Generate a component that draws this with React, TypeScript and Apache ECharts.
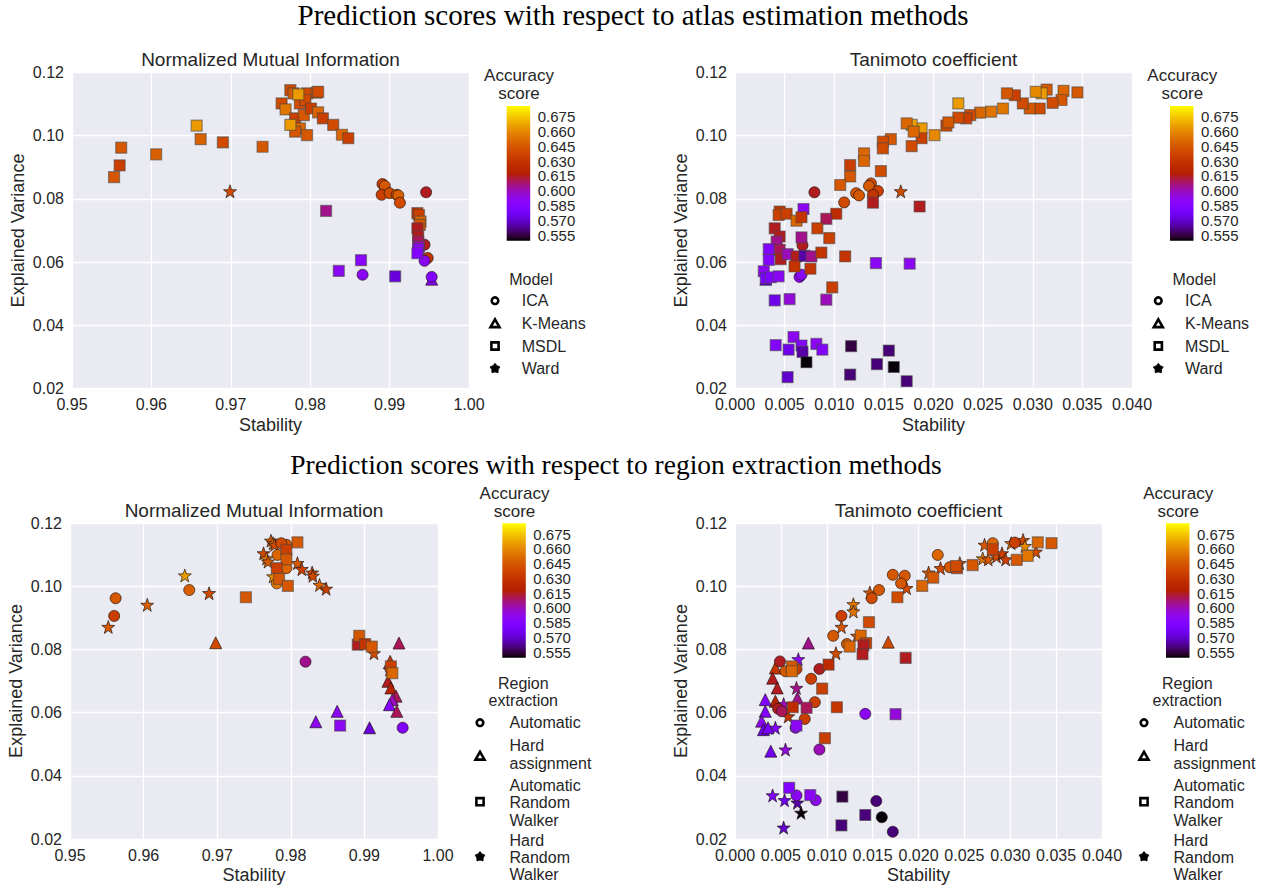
import React, { useEffect, useRef } from "react";
import * as echarts from "echarts";

// ---------- DATA: [stability, explained variance, accuracy score] ----------
// Top row: atlas estimation models
const nmiAtlasICA = [
  [0.9891, 0.0847, 0.635], [0.9894, 0.0841, 0.645], [0.989, 0.0813, 0.635], [0.99, 0.0818, 0.64],
  [0.9909, 0.0813, 0.645], [0.9911, 0.0811, 0.648], [0.9913, 0.0788, 0.64], [0.9946, 0.0821, 0.615],
  [0.9944, 0.0655, 0.615], [0.9948, 0.0613, 0.63], [0.9944, 0.0604, 0.59], [0.9953, 0.0553, 0.585],
  [0.9866, 0.056, 0.59],
];
const nmiAtlasKMeans = [[0.9953, 0.0546, 0.59]];
const nmiAtlasMSDL = [
  [0.9562, 0.0962, 0.645], [0.956, 0.0906, 0.635], [0.9553, 0.0869, 0.645], [0.9606, 0.0941, 0.648],
  [0.9657, 0.1032, 0.665], [0.9662, 0.0989, 0.648], [0.969, 0.0979, 0.64], [0.974, 0.0965, 0.645],
  [0.9775, 0.1144, 0.64], [0.9779, 0.1134, 0.645], [0.9796, 0.1134, 0.64], [0.9808, 0.1136, 0.645],
  [0.981, 0.1139, 0.64], [0.9764, 0.1102, 0.64], [0.9787, 0.1102, 0.64], [0.9794, 0.1113, 0.64],
  [0.9769, 0.1083, 0.655], [0.9781, 0.1055, 0.635], [0.9787, 0.1023, 0.65], [0.9781, 0.1013, 0.645],
  [0.9775, 0.1034, 0.665], [0.9796, 0.1002, 0.645], [0.9792, 0.1065, 0.645], [0.9801, 0.1086, 0.635],
  [0.981, 0.1074, 0.65], [0.9816, 0.1055, 0.635], [0.9829, 0.1034, 0.64], [0.984, 0.1003, 0.65],
  [0.9848, 0.0992, 0.635], [0.9785, 0.1131, 0.665], [0.982, 0.0762, 0.605],
  [0.9935, 0.0755, 0.63], [0.9937, 0.0749, 0.635], [0.9939, 0.0728, 0.65], [0.9938, 0.0718, 0.645],
  [0.9935, 0.0707, 0.615], [0.9936, 0.0681, 0.615], [0.9936, 0.0665, 0.61], [0.9937, 0.0649, 0.6],
  [0.9936, 0.0641, 0.59], [0.9935, 0.0628, 0.585],
  [0.9907, 0.0555, 0.572], [0.9864, 0.0606, 0.588], [0.9836, 0.0572, 0.59],
];
const nmiAtlasWard = [[0.9699, 0.0824, 0.64]];

const tanAtlasICA = [
  [0.0137, 0.0849, 0.64], [0.0135, 0.0841, 0.645], [0.0144, 0.0825, 0.635], [0.0122, 0.0818, 0.645],
  [0.0125, 0.0811, 0.645], [0.0139, 0.0813, 0.63], [0.011, 0.0789, 0.64], [0.008, 0.0821, 0.615],
  [0.0068, 0.0653, 0.615], [0.0065, 0.0553, 0.59], [0.0067, 0.056, 0.59],
];
const tanAtlasKMeans = [[0.0031, 0.0546, 0.578]];
const tanAtlasMSDL = [
  [0.0345, 0.1137, 0.645], [0.0331, 0.1142, 0.65], [0.0329, 0.1113, 0.645], [0.032, 0.1104, 0.64],
  [0.0314, 0.1146, 0.645], [0.0309, 0.1134, 0.665], [0.0303, 0.1139, 0.66], [0.0307, 0.1086, 0.64],
  [0.0297, 0.1086, 0.645], [0.029, 0.1102, 0.64], [0.0282, 0.1128, 0.635], [0.0274, 0.1134, 0.645],
  [0.027, 0.1086, 0.655], [0.0258, 0.1076, 0.655], [0.0247, 0.1073, 0.65], [0.0237, 0.1065, 0.64],
  [0.0233, 0.1055, 0.635], [0.0225, 0.1057, 0.64], [0.0225, 0.1102, 0.665], [0.0213, 0.1032, 0.64],
  [0.0215, 0.1042, 0.645], [0.0201, 0.1002, 0.66], [0.0188, 0.1023, 0.665], [0.0188, 0.0992, 0.635],
  [0.0178, 0.1034, 0.665], [0.0173, 0.1039, 0.65], [0.018, 0.1013, 0.65], [0.0178, 0.0967, 0.64],
  [0.0157, 0.0989, 0.645], [0.0149, 0.0981, 0.64], [0.0149, 0.096, 0.64], [0.013, 0.0944, 0.65],
  [0.013, 0.092, 0.65], [0.0147, 0.0888, 0.64], [0.0116, 0.0907, 0.635], [0.0116, 0.0871, 0.645],
  [0.0106, 0.0844, 0.645],
  [0.0139, 0.0788, 0.615], [0.0186, 0.0776, 0.615], [0.0069, 0.0768, 0.59], [0.0102, 0.0753, 0.625],
  [0.0092, 0.0737, 0.61], [0.0083, 0.0707, 0.635], [0.0095, 0.0676, 0.635], [0.0067, 0.0678, 0.605],
  [0.0045, 0.076, 0.63], [0.0044, 0.0749, 0.635], [0.0052, 0.0753, 0.635], [0.0062, 0.0731, 0.65],
  [0.0067, 0.0742, 0.63], [0.004, 0.0707, 0.615], [0.0045, 0.0681, 0.615], [0.0042, 0.0665, 0.605],
  [0.0034, 0.0641, 0.585], [0.0034, 0.0607, 0.585], [0.0045, 0.0639, 0.61], [0.0046, 0.0609, 0.615],
  [0.0053, 0.0625, 0.6], [0.0062, 0.0618, 0.615], [0.007, 0.062, 0.565], [0.0077, 0.0618, 0.605],
  [0.0087, 0.063, 0.63], [0.0111, 0.0618, 0.63], [0.006, 0.0586, 0.63], [0.0076, 0.0579, 0.63],
  [0.0029, 0.0571, 0.59], [0.0031, 0.0549, 0.58], [0.0036, 0.0552, 0.585], [0.0044, 0.0555, 0.59],
  [0.0142, 0.0597, 0.59], [0.0176, 0.0595, 0.59], [0.0098, 0.052, 0.635],
  [0.004, 0.0479, 0.575], [0.0055, 0.0483, 0.595], [0.0092, 0.0481, 0.6],
  [0.0041, 0.0337, 0.585], [0.0059, 0.0363, 0.59], [0.0054, 0.0323, 0.575], [0.0067, 0.0336, 0.585],
  [0.0068, 0.0316, 0.565], [0.0082, 0.0341, 0.59], [0.0088, 0.0323, 0.585], [0.0072, 0.0283, 0.55],
  [0.0053, 0.0236, 0.57], [0.0117, 0.0334, 0.555], [0.0155, 0.032, 0.56], [0.0143, 0.0277, 0.56],
  [0.016, 0.0268, 0.55], [0.0116, 0.0244, 0.56], [0.0173, 0.0223, 0.56],
];
const tanAtlasWard = [[0.0167, 0.0824, 0.64]];

// Bottom row: region extraction methods
const nmiRegionAuto = [
  [0.9562, 0.0962, 0.645], [0.956, 0.0906, 0.635], [0.9662, 0.0988, 0.648], [0.9794, 0.1131, 0.645],
  [0.9787, 0.1136, 0.64], [0.9782, 0.1099, 0.65], [0.9794, 0.1057, 0.65], [0.9781, 0.1009, 0.655],
  [0.982, 0.0761, 0.605], [0.9952, 0.0552, 0.585],
];
const nmiRegionHard = [
  [0.9698, 0.0821, 0.64], [0.9834, 0.0571, 0.59], [0.9863, 0.0604, 0.59], [0.9907, 0.0552, 0.572],
  [0.9947, 0.082, 0.61], [0.9935, 0.0762, 0.63], [0.9932, 0.0699, 0.615], [0.9936, 0.0678, 0.62],
  [0.9943, 0.0652, 0.61], [0.9938, 0.0641, 0.6], [0.9934, 0.0625, 0.585], [0.9944, 0.0604, 0.61],
];
const nmiRegionAutoRW = [
  [0.9739, 0.0965, 0.645], [0.9809, 0.1139, 0.645], [0.9794, 0.1115, 0.635], [0.9794, 0.1085, 0.645],
  [0.9781, 0.1057, 0.635], [0.9784, 0.1023, 0.645], [0.9796, 0.1001, 0.645], [0.9867, 0.0559, 0.59],
  [0.9891, 0.0815, 0.615], [0.9893, 0.0843, 0.645], [0.9901, 0.0817, 0.63], [0.991, 0.0809, 0.645],
  [0.9936, 0.0746, 0.635], [0.9938, 0.0725, 0.65],
];
const nmiRegionHardRW = [
  [0.9552, 0.0871, 0.645], [0.9605, 0.0941, 0.648], [0.9656, 0.1034, 0.665], [0.9689, 0.0978, 0.64],
  [0.9773, 0.1144, 0.645], [0.9776, 0.1136, 0.655], [0.9778, 0.1131, 0.64], [0.9763, 0.1104, 0.64],
  [0.9767, 0.1088, 0.655], [0.9769, 0.1078, 0.645], [0.9776, 0.1031, 0.66], [0.9809, 0.1073, 0.645],
  [0.9815, 0.1054, 0.635], [0.9829, 0.1043, 0.64], [0.983, 0.1033, 0.64], [0.9839, 0.1004, 0.65],
  [0.9848, 0.0992, 0.635], [0.9913, 0.0788, 0.64], [0.9934, 0.0736, 0.635],
];

const tanRegionAuto = [
  [0.0281, 0.1136, 0.65], [0.0305, 0.1138, 0.635], [0.0221, 0.1099, 0.65], [0.0234, 0.106, 0.645],
  [0.0172, 0.1036, 0.645], [0.0185, 0.1033, 0.645], [0.0181, 0.1009, 0.645], [0.0157, 0.0988, 0.645],
  [0.0149, 0.0962, 0.64], [0.0116, 0.0906, 0.635], [0.0107, 0.0843, 0.645], [0.0122, 0.0817, 0.645],
  [0.0049, 0.0762, 0.615], [0.0092, 0.0738, 0.615], [0.0083, 0.0707, 0.635], [0.0087, 0.0633, 0.635],
  [0.0055, 0.0731, 0.645], [0.0067, 0.0738, 0.635], [0.0047, 0.0612, 0.615], [0.0051, 0.0604, 0.61],
  [0.0076, 0.058, 0.635], [0.0066, 0.0552, 0.59], [0.0142, 0.0596, 0.59], [0.0092, 0.0483, 0.6],
  [0.0067, 0.0338, 0.59], [0.0088, 0.0323, 0.59], [0.0154, 0.032, 0.56], [0.016, 0.0269, 0.55],
  [0.0172, 0.0223, 0.56],
];
const tanRegionHard = [
  [0.008, 0.082, 0.605], [0.0167, 0.0823, 0.64], [0.0044, 0.0741, 0.63], [0.0041, 0.0709, 0.615],
  [0.0046, 0.0678, 0.615], [0.0044, 0.0636, 0.62], [0.0068, 0.0646, 0.605], [0.0033, 0.0641, 0.585],
  [0.0033, 0.0604, 0.585], [0.0029, 0.0573, 0.59], [0.0031, 0.0546, 0.575], [0.0036, 0.0552, 0.58],
  [0.0039, 0.0478, 0.575],
];
const tanRegionAutoRW = [
  [0.0345, 0.1136, 0.645], [0.033, 0.1139, 0.65], [0.0319, 0.1096, 0.655], [0.0307, 0.1083, 0.645],
  [0.0281, 0.1117, 0.635], [0.0259, 0.1067, 0.645], [0.0242, 0.1057, 0.635], [0.0241, 0.1064, 0.64],
  [0.0216, 0.1027, 0.645], [0.0204, 0.1001, 0.65], [0.0177, 0.0965, 0.64], [0.0146, 0.0886, 0.64],
  [0.0137, 0.0844, 0.65], [0.0143, 0.082, 0.635], [0.014, 0.0813, 0.615], [0.0139, 0.0785, 0.615],
  [0.0125, 0.0809, 0.65], [0.0186, 0.0773, 0.615], [0.0102, 0.0752, 0.625], [0.0095, 0.0676, 0.635],
  [0.0111, 0.0617, 0.63], [0.0062, 0.0746, 0.645], [0.0062, 0.0731, 0.65], [0.0063, 0.0617, 0.625],
  [0.0078, 0.0615, 0.61], [0.0067, 0.0559, 0.59], [0.0175, 0.0595, 0.595], [0.0098, 0.0519, 0.635],
  [0.0059, 0.0362, 0.585], [0.0082, 0.0339, 0.59], [0.0117, 0.0334, 0.555], [0.0142, 0.0276, 0.56],
  [0.0116, 0.0243, 0.56],
];
const tanRegionHardRW = [
  [0.0314, 0.1146, 0.64], [0.0316, 0.1127, 0.66], [0.0301, 0.1136, 0.65], [0.0272, 0.1131, 0.645],
  [0.027, 0.1088, 0.655], [0.0276, 0.1085, 0.645], [0.0285, 0.1094, 0.64], [0.0291, 0.1104, 0.635],
  [0.0295, 0.1085, 0.635], [0.0328, 0.1109, 0.64], [0.0245, 0.1073, 0.645], [0.0224, 0.1057, 0.64],
  [0.0211, 0.1043, 0.645], [0.0187, 0.0994, 0.64], [0.0147, 0.098, 0.645], [0.0129, 0.0943, 0.655],
  [0.0129, 0.092, 0.655], [0.0116, 0.0871, 0.645], [0.0133, 0.0843, 0.64], [0.011, 0.0788, 0.64],
  [0.0069, 0.0769, 0.59], [0.0067, 0.0678, 0.605], [0.0053, 0.0627, 0.6], [0.0058, 0.0588, 0.63],
  [0.0044, 0.0552, 0.585], [0.0055, 0.0483, 0.595], [0.0041, 0.0338, 0.585], [0.0054, 0.0323, 0.575],
  [0.0068, 0.0315, 0.565], [0.0072, 0.0283, 0.55], [0.0053, 0.0236, 0.57],
];

// Tick labels / names
const colorbarTicks = [0.555, 0.57, 0.585, 0.6, 0.615, 0.63, 0.645, 0.66, 0.675];
const CB_MIN = 0.5493;
const CB_MAX = 0.686;
const modelNames = ["ICA", "K-Means", "MSDL", "Ward"];
const regionNames = [["Automatic"], ["Hard", "assignment"], ["Automatic", "Random", "Walker"], ["Hard", "Random", "Walker"]];
const mainTitles = ["Prediction scores with respect to atlas estimation methods", "Prediction scores with respect to region extraction methods"];
const subTitles = ["Normalized Mutual Information", "Tanimoto coefficient"];

// ---------- colormap (matplotlib "gnuplot") ----------
function gnuplot(t: number) {
  const r = Math.sqrt(t);
  const g = t * t * t;
  const b = Math.max(0, Math.min(1, Math.sin(2 * Math.PI * t)));
  const h = (v: number) => Math.round(v * 255);
  return `rgb(${h(r)},${h(g)},${h(b)})`;
}
const NSTOP = 40;
const CMAP = Array.from({ length: NSTOP + 1 }, (_, i) => gnuplot(i / NSTOP));

const STAR = "path://M0,-50L11.8,-16.2L47.6,-15.5L19,6.2L29.4,40.5L0,20L-29.4,40.5L-19,6.2L-47.6,-15.5L-11.8,-16.2Z";
const SANS = "'Liberation Sans', Arial, sans-serif";
const SERIF = "'Liberation Serif', 'DejaVu Serif', serif";
const TXT = "#262626";

const GRIDS = [
  { left: 72, top: 72.5, width: 397, height: 316 },
  { left: 735, top: 72.5, width: 397, height: 316 },
  { left: 70, top: 523, width: 368, height: 316 },
  { left: 735, top: 523, width: 367, height: 316 },
];

export default function App() {
  const ref = useRef<HTMLDivElement>(null);
  useEffect(() => {
    if (!ref.current) return;
    const chart = echarts.init(ref.current, null, { renderer: "svg" });

    const xAxes = GRIDS.map((_, i) => {
      const nmi = i % 2 === 0;
      return {
        type: "value",
        gridIndex: i,
        min: nmi ? 0.95 : 0,
        max: nmi ? 1.0 : 0.04,
        interval: nmi ? 0.01 : 0.005,
        axisLine: { show: false },
        axisTick: { show: false },
        splitLine: { show: true, lineStyle: { color: "#ffffff", width: 1.3 } },
        axisLabel: {
          color: TXT, fontSize: 16, fontFamily: SANS, margin: 8,
          formatter: (v: number) => v.toFixed(nmi ? 2 : 3),
        },
      };
    });
    const yAxes = GRIDS.map((_, i) => ({
      type: "value",
      gridIndex: i,
      min: 0.02,
      max: 0.12,
      interval: 0.02,
      axisLine: { show: false },
      axisTick: { show: false },
      splitLine: { show: true, lineStyle: { color: "#ffffff", width: 1.3 } },
      axisLabel: { color: TXT, fontSize: 16, fontFamily: SANS, margin: 8, formatter: (v: number) => v.toFixed(2) },
    }));

    const mk = (name: string, data: number[][], grid: number, symbol: string, size: number, z: number) => ({
      type: "scatter",
      name,
      data,
      xAxisIndex: grid,
      yAxisIndex: grid,
      symbol,
      symbolSize: size,
      z,
      itemStyle: {
        borderColor: symbol === "rect" ? "rgba(70,70,70,0.55)" : "rgba(30,20,20,0.85)",
        borderWidth: symbol === "rect" ? 1.2 : 0.8,
        opacity: 1,
      },
      emphasis: { disabled: true },
    });

    const series = [
      mk("K-Means", nmiAtlasKMeans, 0, "triangle", 12, 2),
      mk("ICA", nmiAtlasICA, 0, "circle", 11, 3),
      mk("MSDL", nmiAtlasMSDL, 0, "rect", 11, 4),
      mk("Ward", nmiAtlasWard, 0, STAR, 13, 5),
      mk("K-Means", tanAtlasKMeans, 1, "triangle", 12, 2),
      mk("ICA", tanAtlasICA, 1, "circle", 11, 3),
      mk("MSDL", tanAtlasMSDL, 1, "rect", 11, 4),
      mk("Ward", tanAtlasWard, 1, STAR, 13, 5),
      mk("Hard Random Walker", nmiRegionHardRW, 2, STAR, 13, 2),
      mk("Hard assignment", nmiRegionHard, 2, "triangle", 12, 3),
      mk("Automatic", nmiRegionAuto, 2, "circle", 11, 4),
      mk("Automatic Random Walker", nmiRegionAutoRW, 2, "rect", 11, 5),
      mk("Hard Random Walker", tanRegionHardRW, 3, STAR, 13, 2),
      mk("Hard assignment", tanRegionHard, 3, "triangle", 12, 3),
      mk("Automatic", tanRegionAuto, 3, "circle", 11, 4),
      mk("Automatic Random Walker", tanRegionAutoRW, 3, "rect", 11, 5),
    ];

    const graphic: any[] = [];
    const text = (x: number, y: number, s: string, opts: any = {}) =>
      graphic.push({
        type: "text",
        x, y,
        rotation: opts.rotation || 0,
        silent: true,
        style: {
          text: s,
          fill: opts.fill || TXT,
          font: opts.font || `16px ${SANS}`,
          textAlign: opts.align || "center",
          textVerticalAlign: "middle",
        },
      });

    // main titles
    text(633, 15, mainTitles[0], { font: `29px ${SERIF}`, fill: "#000" });
    text(616, 464, mainTitles[1], { font: `27.5px ${SERIF}`, fill: "#000" });

    GRIDS.forEach((g, i) => {
      const cx = g.left + g.width / 2;
      const cy = g.top + g.height / 2;
      text(cx, g.top - 13, subTitles[i % 2], { font: `19px ${SANS}` });
      text(cx, g.top + g.height + 36, "Stability", { font: `18px ${SANS}` });
      text(g.left - 54, cy, "Explained Variance", { font: `18px ${SANS}`, rotation: Math.PI / 2 });
    });

    // colorbars
    const bars = [
      { x: 506.7, y: 106, h: 134.7 },
      { x: 1170, y: 106, h: 134.7 },
      { x: 502.3, y: 523.3, h: 134.4 },
      { x: 1166, y: 523.3, h: 134.4 },
    ];
    // offset 0 = top of bar = highest accuracy
    const gradStops = CMAP.map((_, i) => ({ offset: i / NSTOP, color: CMAP[NSTOP - i] }));
    bars.forEach((b, i) => {
      const top = i < 2;
      graphic.push({
        type: "rect",
        silent: true,
        shape: { x: b.x, y: b.y, width: 23.5, height: b.h },
        style: { fill: new echarts.graphic.LinearGradient(0, 0, 0, 1, gradStops) },
      });
      const cxT = b.x + (top ? 12.3 : 12.2);
      text(cxT, b.y - (top ? 30.3 : 30), "Accuracy", { font: `17px ${SANS}` });
      text(cxT, b.y - (top ? 12.5 : 11.8), "score", { font: `17px ${SANS}` });
      colorbarTicks.forEach((v) => {
        const yy = b.y + ((CB_MAX - v) / (CB_MAX - CB_MIN)) * b.h;
        text(b.x + 31, yy, v.toFixed(3), { font: `15px ${SANS}`, align: "left" });
      });
    });

    // legend markers
    const marker = (kind: number, x: number, y: number) => {
      const st = { fill: "#fff", stroke: "#000", lineWidth: 2.6 };
      if (kind === 0) graphic.push({ type: "circle", silent: true, shape: { cx: x, cy: y, r: 3.3 }, style: st });
      else if (kind === 1)
        graphic.push({ type: "polygon", silent: true, shape: { points: [[x, y - 4.2], [x + 4.5, y + 3.6], [x - 4.5, y + 3.6]] }, style: st });
      else if (kind === 2)
        graphic.push({ type: "rect", silent: true, shape: { x: x - 3.6, y: y - 3.6, width: 7.2, height: 7.2 }, style: st });
      else {
        const pts: number[][] = [];
        for (let k = 0; k < 10; k++) {
          const a = -Math.PI / 2 + (k * Math.PI) / 5;
          const r = k % 2 === 0 ? 5.2 : 3.4;
          pts.push([x + r * Math.cos(a), y + r * Math.sin(a)]);
        }
        graphic.push({ type: "polygon", silent: true, shape: { points: pts }, style: { fill: "#000", stroke: "#000", lineWidth: 0.8 } });
      }
    };

    // top legends (Model)
    [0, 663.3].forEach((dx) => {
      text(531 + dx, 279.3, "Model");
      const ys = [300.7, 323.5, 346, 368.5];
      modelNames.forEach((n, k) => {
        marker(k, 495 + dx, ys[k]);
        text(521.7 + dx, ys[k], n, { align: "left" });
      });
    });
    // bottom legends (Region extraction)
    [0, 664].forEach((dx) => {
      text(523.3 + dx, 683.3, "Region");
      text(523.3 + dx, 700.5, "extraction");
      const lines = [[722.7], [745, 763], [785, 802.5, 820], [840, 857, 874]];
      const my = [722.7, 756, 801.7, 856.7];
      regionNames.forEach((ls, k) => {
        marker(k, 480 + dx, my[k]);
        ls.forEach((l, j) => text(509.5 + dx, lines[k][j], l, { align: "left" }));
      });
    });

    chart.setOption({
      animation: false,
      backgroundColor: "#ffffff",
      grid: GRIDS.map((g) => ({ ...g, show: true, backgroundColor: "#EAEAF2", borderWidth: 0, containLabel: false })),
      xAxis: xAxes,
      yAxis: yAxes,
      visualMap: {
        type: "continuous",
        show: false,
        min: CB_MIN,
        max: CB_MAX,
        dimension: 2,
        seriesIndex: series.map((_, i) => i),
        inRange: { color: CMAP },
      },
      series,
      graphic,
    });
    return () => chart.dispose();
  }, []);

  return (
    <div
      ref={ref}
      style={{ position: "fixed", left: 0, top: 0, width: 1267, height: 888, background: "#fff" }}
    />
  );
}
